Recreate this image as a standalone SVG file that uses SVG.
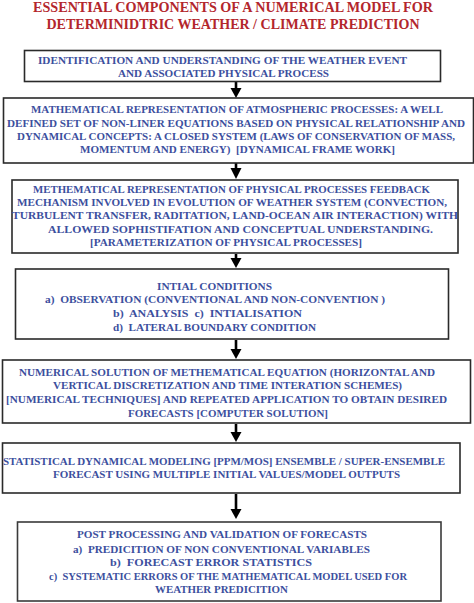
<svg xmlns="http://www.w3.org/2000/svg" width="474" height="603" viewBox="0 0 474 603">
<defs>
<style>
.title{font-family:"Liberation Serif","DejaVu Serif",serif;font-weight:bold;font-size:14px;fill:#b3262c;text-anchor:middle}
.t{font-family:"Liberation Serif","DejaVu Serif",serif;font-weight:bold;font-size:10.2px;fill:#3c4f9e;text-anchor:middle}
.box{fill:#ffffff;stroke:#2a2a2a;stroke-width:1.6}
.conn{stroke:#000;stroke-width:2.6;fill:none}
.head{fill:#000}
</style>
</defs>
<rect width="474" height="603" fill="#ffffff"/>
<g id="title">
<text class="title" x="233" y="11.5" textLength="400" lengthAdjust="spacingAndGlyphs">ESSENTIAL COMPONENTS OF A NUMERICAL MODEL FOR</text>
<text class="title" x="233" y="28.5" textLength="373" lengthAdjust="spacingAndGlyphs">DETERMINIDTRIC WEATHER / CLIMATE PREDICTION</text>
</g>
<g id="connectors">
<path class="conn" d="M236,82 V90"/>
<path class="head" d="M230.5,88 L241.5,88 L236,98 Z"/>
<path class="conn" d="M236,163 V170"/>
<path class="head" d="M230.5,168 L241.5,168 L236,179 Z"/>
<path class="conn" d="M236,254 V260"/>
<path class="head" d="M230.5,258 L241.5,258 L236,268 Z"/>
<path class="conn" d="M236,340 V351"/>
<path class="head" d="M230.5,349 L241.5,349 L236,359 Z"/>
<path class="conn" d="M236,424 V434"/>
<path class="head" d="M230.5,432 L241.5,432 L236,442 Z"/>
<path class="conn" d="M236,494 V511"/>
<path class="head" d="M230.5,509 L241.5,509 L236,519 Z"/>
</g>
<g id="node1">
<rect class="box" x="24.5" y="50.5" width="416" height="31"/>
<text class="t" x="222.5" y="64" textLength="369" lengthAdjust="spacingAndGlyphs">IDENTIFICATION AND UNDERSTANDING OF THE WEATHER EVENT</text>
<text class="t" x="223.5" y="77" textLength="211" lengthAdjust="spacingAndGlyphs">AND ASSOCIATED PHYSICAL PROCESS</text>
</g>
<g id="node2">
<rect class="box" x="3.5" y="98" width="470" height="65"/>
<text class="t" x="237" y="113.3" textLength="412" lengthAdjust="spacingAndGlyphs">MATHEMATICAL REPRESENTATION OF ATMOSPHERIC PROCESSES: A WELL</text>
<text class="t" x="236" y="126.7" textLength="458" lengthAdjust="spacingAndGlyphs">DEFINED SET OF NON-LINER EQUATIONS BASED ON PHYSICAL RELATIONSHIP AND</text>
<text class="t" x="236" y="140" textLength="438" lengthAdjust="spacingAndGlyphs">DYNAMICAL CONCEPTS: A CLOSED SYSTEM (LAWS OF CONSERVATION OF MASS,</text>
<text class="t" x="237.5" y="153.3" textLength="315" lengthAdjust="spacingAndGlyphs" xml:space="preserve">MOMENTUM AND ENERGY)  [DYNAMICAL FRAME WORK]</text>
</g>
<g id="node3">
<rect class="box" x="12" y="180" width="446" height="73"/>
<text class="t" x="231.5" y="192.7" textLength="397" lengthAdjust="spacingAndGlyphs">METHEMATICAL REPRESENTATION OF PHYSICAL PROCESSES FEEDBACK</text>
<text class="t" x="232" y="206" textLength="430" lengthAdjust="spacingAndGlyphs">MECHANISM INVOLVED IN EVOLUTION OF WEATHER SYSTEM (CONVECTION,</text>
<text class="t" x="235" y="219.3" textLength="446" lengthAdjust="spacingAndGlyphs">TURBULENT TRANSFER, RADITATION, LAND-OCEAN AIR INTERACTION) WITH</text>
<text class="t" x="240.5" y="232.7" textLength="385" lengthAdjust="spacingAndGlyphs">ALLOWED SOPHISTIFATION AND CONCEPTUAL UNDERSTANDING.</text>
<text class="t" x="226" y="246" textLength="272" lengthAdjust="spacingAndGlyphs">[PARAMETERIZATION OF PHYSICAL PROCESSES]</text>
</g>
<g id="node4">
<rect class="box" x="15.5" y="269" width="433" height="70"/>
<text class="t" x="214.5" y="289.5" textLength="115" lengthAdjust="spacingAndGlyphs">INTIAL CONDITIONS</text>
<text class="t" x="215" y="303" textLength="340" lengthAdjust="spacingAndGlyphs" xml:space="preserve">a)  OBSERVATION (CONVENTIONAL AND NON-CONVENTION )</text>
<text class="t" x="207.5" y="316.5" textLength="189" lengthAdjust="spacingAndGlyphs" xml:space="preserve">b)  ANALYSIS  c)  INTIALISATION</text>
<text class="t" x="214.5" y="330.5" textLength="203" lengthAdjust="spacingAndGlyphs" xml:space="preserve">d)  LATERAL BOUNDARY CONDITION</text>
</g>
<g id="node5">
<rect class="box" x="2.5" y="360" width="468" height="63"/>
<text class="t" x="227" y="376" textLength="416" lengthAdjust="spacingAndGlyphs">NUMERICAL SOLUTION OF METHEMATICAL EQUATION (HORIZONTAL AND</text>
<text class="t" x="227.5" y="389.3" textLength="349" lengthAdjust="spacingAndGlyphs">VERTICAL DISCRETIZATION AND TIME INTERATION SCHEMES)</text>
<text class="t" x="226.5" y="403.3" textLength="441" lengthAdjust="spacingAndGlyphs">[NUMERICAL TECHNIQUES] AND REPEATED APPLICATION TO OBTAIN DESIRED</text>
<text class="t" x="228" y="416.7" textLength="200" lengthAdjust="spacingAndGlyphs">FORECASTS [COMPUTER SOLUTION]</text>
</g>
<g id="node6">
<rect class="box" x="2.5" y="443" width="457.5" height="50"/>
<text class="t" x="224" y="465" textLength="442" lengthAdjust="spacingAndGlyphs">STATISTICAL DYNAMICAL MODELING [PPM/MOS] ENSEMBLE / SUPER-ENSEMBLE</text>
<text class="t" x="226.5" y="478.3" textLength="347" lengthAdjust="spacingAndGlyphs">FORECAST USING MULTIPLE INITIAL VALUES/MODEL OUTPUTS</text>
</g>
<g id="node7">
<rect class="box" x="17.5" y="522" width="423.5" height="79" style="stroke:#3a3a3a"/>
<text class="t" x="222" y="538.3" textLength="290" lengthAdjust="spacingAndGlyphs">POST PROCESSING AND VALIDATION OF FORECASTS</text>
<text class="t" x="221.5" y="552.7" textLength="297" lengthAdjust="spacingAndGlyphs" xml:space="preserve">a)  PREDICITION OF NON CONVENTIONAL VARIABLES</text>
<text class="t" x="211" y="566" textLength="202" lengthAdjust="spacingAndGlyphs" xml:space="preserve">b)  FORECAST ERROR STATISTICS</text>
<text class="t" x="228" y="580" textLength="358" lengthAdjust="spacingAndGlyphs" xml:space="preserve">c)  SYSTEMATIC ERRORS OF THE MATHEMATICAL MODEL USED FOR</text>
<text class="t" x="221.5" y="593.3" textLength="133" lengthAdjust="spacingAndGlyphs">WEATHER PREDICITION</text>
</g>
</svg>
